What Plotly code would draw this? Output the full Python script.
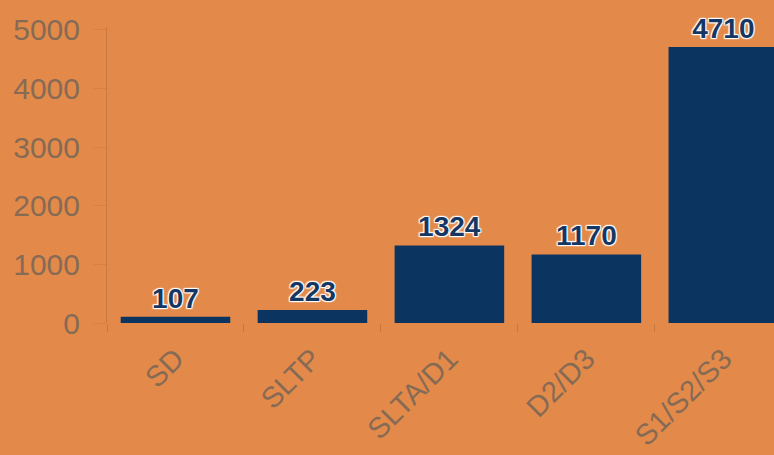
import plotly.graph_objects as go

categories = ["SD", "SLTP", "SLTA/D1", "D2/D3", "S1/S2/S3"]
values = [107, 223, 1324, 1170, 4710]
y_ticks = [0, 1000, 2000, 3000, 4000, 5000]

BG = "#E38A4A"
BAR = "#0B3461"
TICK_COL = "#876A54"

fig = go.Figure()
fig.add_trace(go.Bar(
    x=categories, y=values,
    marker=dict(color=BAR, line=dict(width=0)),
    width=0.8,
    text=[str(v) for v in values],
    textposition="outside",
    textfont=dict(family="Liberation Sans", size=28, color="#173763",
                  weight="bold",
                  shadow="-1px -1px 1px #fff, 1px -1px 1px #fff, -1px 1px 1px #fff, 1px 1px 1px #fff, 0 0 2px #fff"),
    cliponaxis=False,
    hoverinfo="skip",
))

fig.update_layout(
    width=774, height=455,
    margin=dict(l=107, r=0, t=27, b=132),
    paper_bgcolor=BG, plot_bgcolor=BG,
    showlegend=False,
    bargap=0.2,
    xaxis=dict(
        type="category", range=[-0.5, 4.37],
        tickangle=-45, tickson="boundaries",
        ticks="outside", ticklen=8, tickcolor="#C9773F",
        ticklabelstandoff=12,
        tickfont=dict(family="Liberation Sans", size=29, color=TICK_COL),
        showgrid=False, zeroline=False, showline=False,
    ),
    yaxis=dict(
        range=[0, 5051], tickvals=y_ticks,
        ticks="outside", ticklen=12, tickcolor="#D9803F",
        tickfont=dict(family="Liberation Sans", size=30, color=TICK_COL),
        ticklabelstandoff=8,
        showgrid=False, zeroline=False,
        showline=True, linecolor="#C97A40", linewidth=1,
    ),
)

fig.write_html("out.html", config={"displayModeBar": False},
               post_script="document.body.style.margin='0';")
